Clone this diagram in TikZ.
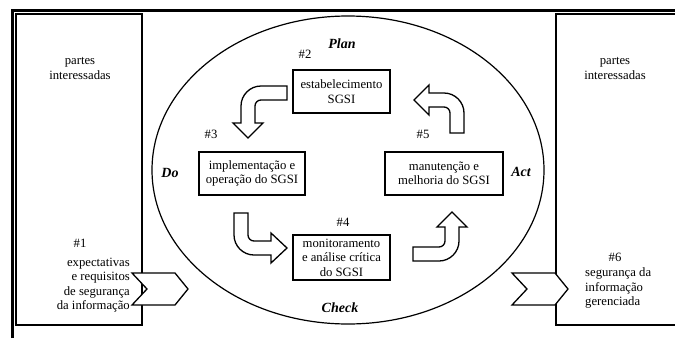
\documentclass[tikz,border=0pt]{standalone}
\usepackage{fontspec}
\IfFontExistsTF{Liberation Serif}{\setmainfont{Liberation Serif}}{}
\begin{document}
\begin{tikzpicture}[x=1pt,y=-1pt,
  txt/.style={font=\rmfamily\fontsize{12.7}{14.5}\selectfont, inner sep=0pt},
  box/.style={txt, draw, line width=1.4pt, fill=white, align=center},
  phase/.style={font=\rmfamily\fontsize{14}{16}\selectfont\bfseries\itshape, inner sep=0pt},
  barrow/.style={draw, line width=1.3pt, fill=white, line join=miter},
  chev/.style={draw, line width=1.3pt, fill=white, line join=miter},
  frame/.style={line width=3pt},
  side/.style={draw, line width=1.3pt}]
\useasboundingbox (0,0) rectangle (675,338);
% outer frame
\draw[frame] (12,338) -- (12,10) -- (675,10);
% side boxes
\draw[side] (16,14) rectangle (142,325);
\draw[side] (680,14) -- (556,14) -- (556,325) -- (680,325);
% cycle ellipse
\draw[line width=1.2pt] (348,170) ellipse [x radius=196pt, y radius=154pt];
% PDCA boxes
\node[box, minimum width=97pt, minimum height=43pt] (est) at (341.5,91.5) {estabelecimento\\SGSI};
\node[box, minimum width=106pt, minimum height=43pt] (imp) at (252,173.5) {implementação e\\operação do SGSI};
\node[box, minimum width=118pt, minimum height=43pt] (man) at (444,173.5) {manutenção e\\melhoria do SGSI};
\node[box, minimum width=97pt, minimum height=45pt] (mon) at (341.5,257.5) {monitoramento\\e análise crítica\\do SGSI};
% numbers and phases
\node[txt] (n2) at (305,54) {\#2};
\node[txt] (n3) at (211,134) {\#3};
\node[txt] (n5) at (423,134) {\#5};
\node[txt] (n4) at (343,222) {\#4};
\node[phase] (plan) at (342,44) {Plan};
\node[phase] (do) at (170,173) {Do};
\node[phase] (act) at (521,172) {Act};
\node[phase] (check) at (340,308) {Check};
% curved block arrows
\draw[barrow] (287,86) -- (261,86) .. controls (250,86) and (241,95) .. (241,106) -- (241,123) -- (233,123) -- (248,138) -- (263,123) -- (255,123) -- (255,106) .. controls (255,102.7) and (257.7,100) .. (261,100) -- (287,100) -- cycle;
\draw[barrow] (450,133) -- (464,133) -- (464,113) .. controls (464,102) and (455,93) .. (444,93) -- (429,93) -- (429,85) -- (414,100) -- (429,115) -- (429,107) -- (444,107) .. controls (447.3,107) and (450,109.7) .. (450,113) -- cycle;
\draw[barrow] (234,213) -- (248,213) -- (248,235) .. controls (248,238.3) and (250.7,241) .. (254,241) -- (271,241) -- (271,233) -- (287,248) -- (271,263) -- (271,255) -- (254,255) .. controls (243,255) and (234,246) .. (234,235) -- cycle;
\draw[barrow] (413,247) -- (439,247) .. controls (442.3,247) and (445,244.3) .. (445,241) -- (445,227) -- (437,227) -- (452,212) -- (467,227) -- (459,227) -- (459,241) .. controls (459,252) and (450,261) .. (439,261) -- (413,261) -- cycle;
% side texts
\node[txt, align=center] (pi1) at (80,68.5) {partes\\interessadas};
\node[txt, align=center] (pi2) at (615,68.5) {partes\\interessadas};
\node[txt] (n1) at (80,243) {\#1};
\node[txt] (n6) at (615,257) {\#6};
\node[txt, align=right, anchor=east] (exp) at (130,285) {expectativas\\e requisitos\\de segurança\\da informação};
\node[txt, align=left, anchor=west] (seg) at (585,288) {segurança da\\informação\\gerenciada};
% chevrons
\draw[chev] (132,273) -- (175,273) -- (188,289) -- (175,305) -- (132,305) -- (147,289) -- cycle;
\draw[chev] (512,273) -- (555,273) -- (568,289) -- (555,305) -- (512,305) -- (527,289) -- cycle;
\end{tikzpicture}
\end{document}
